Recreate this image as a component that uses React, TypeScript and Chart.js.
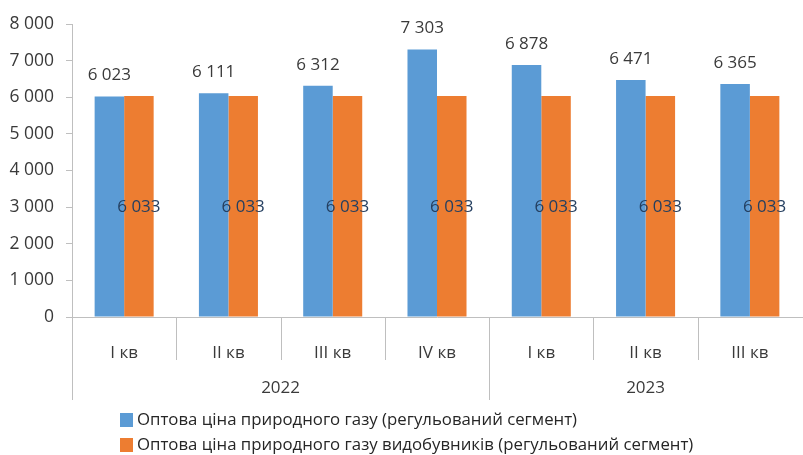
import React, { useEffect, useRef } from "react";
import { Chart, registerables } from "chart.js";

Chart.register(...registerables);

const quarters = ["I кв", "II кв", "III кв", "IV кв", "I кв", "II кв", "III кв"];
const years = ["2022", "2023"];
const yearSpans = [4, 3];
const regulatedPrice = [6023, 6111, 6312, 7303, 6878, 6471, 6365];
const producerPrice = [6033, 6033, 6033, 6033, 6033, 6033, 6033];
const seriesNames = [
  "Оптова ціна природного газу (регульований сегмент)",
  "Оптова ціна природного газу видобувників (регульований сегмент)",
];
const yTicks = [0, 1000, 2000, 3000, 4000, 5000, 6000, 7000, 8000];

const BLUE = "#5B9BD5";
const ORANGE = "#ED7D31";
const AXIS = "#BFBFBF";
const TEXT = "#3A3A3A";
const FONT = "'Open Sans', sans-serif";

const fmt = (v: number) => {
  const s = String(Math.round(v));
  return s.replace(/\B(?=(\d{3})+(?!\d))/g, " ");
};

const extrasPlugin = {
  id: "extras",
  afterDatasetsDraw(chart: any) {
    const ctx = chart.ctx;
    const x = chart.scales.x;
    const area = chart.chartArea;
    ctx.save();
    // data labels
    ctx.font = `17px ${FONT}`;
    ctx.textAlign = "center";
    ctx.textBaseline = "middle";
    const m0 = chart.getDatasetMeta(0);
    m0.data.forEach((bar: any, i: number) => {
      ctx.fillStyle = TEXT;
      ctx.fillText(fmt(regulatedPrice[i]), bar.x, bar.y - 21);
    });
    const m1 = chart.getDatasetMeta(1);
    m1.data.forEach((bar: any, i: number) => {
      ctx.fillStyle = "#243F60";
      ctx.fillText(fmt(producerPrice[i]), bar.x, (bar.y + bar.base) / 2 + 1);
    });

    // separators
    const n = quarters.length;
    const half = (x.getPixelForTick(1) - x.getPixelForTick(0)) / 2;
    ctx.strokeStyle = AXIS;
    ctx.lineWidth = 1;
    const yearBounds = new Set<number>();
    let acc = 0;
    yearSpans.forEach((s) => {
      yearBounds.add(acc);
      acc += s;
    });
    for (let i = 0; i < n; i++) {
      const px = Math.round(x.getPixelForTick(i) - half) + 0.5;
      const len = yearBounds.has(i) ? 83 : 43;
      ctx.beginPath();
      ctx.moveTo(px, area.bottom);
      ctx.lineTo(px, area.bottom + len);
      ctx.stroke();
    }
    // year labels
    ctx.fillStyle = TEXT;
    ctx.font = `17px ${FONT}`;
    let start = 0;
    yearSpans.forEach((s, k) => {
      const l = x.getPixelForTick(start) - half;
      const r = x.getPixelForTick(start + s - 1) + half;
      ctx.fillText(years[k], (l + r) / 2, area.bottom + 71);
      start += s;
    });

    // legend
    const colors = [BLUE, ORANGE];
    ctx.textAlign = "left";
    ctx.font = `16.8px ${FONT}`;
    seriesNames.forEach((name, k) => {
      const cy = 420 + k * 25;
      ctx.fillStyle = colors[k];
      ctx.fillRect(120, cy - 7, 13, 14);
      ctx.fillStyle = "#262626";
      ctx.fillText(name, 137, cy);
    });
    ctx.restore();
  },
};

export default function App() {
  const ref = useRef<HTMLCanvasElement | null>(null);
  useEffect(() => {
    if (!ref.current) return;
    const chart = new Chart(ref.current, {
      type: "bar",
      data: {
        labels: quarters,
        datasets: [
          { label: seriesNames[0], data: regulatedPrice, backgroundColor: BLUE, categoryPercentage: 0.566, barPercentage: 1 },
          { label: seriesNames[1], data: producerPrice, backgroundColor: ORANGE, categoryPercentage: 0.566, barPercentage: 1 },
        ],
      },
      options: {
        animation: false,
        responsive: false,
        maintainAspectRatio: false,
        layout: { padding: { top: 24, right: 1, left: 0, bottom: 0 } },
        plugins: { legend: { display: false }, tooltip: { enabled: false } },
        scales: {
          x: {
            grid: { display: false },
            border: { color: AXIS, width: 1 },
            ticks: { color: TEXT, font: { family: FONT, size: 17 }, padding: 18, maxRotation: 0, autoSkip: false },
            afterFit: (s: any) => { s.height = 138; },
          },
          y: {
            min: 0,
            max: 8000,
            afterBuildTicks: (s: any) => { s.ticks = yTicks.map((v) => ({ value: v })); },
            grid: { drawOnChartArea: false, drawTicks: true, tickLength: 6, color: AXIS },
            border: { color: AXIS, width: 1 },
            ticks: { color: TEXT, font: { family: FONT, size: 17.5 }, padding: 12, callback: (v: any) => fmt(Number(v)) },
            afterFit: (s: any) => { s.width = 72; },
          },
        },
      },
      plugins: [extrasPlugin],
    });
    return () => chart.destroy();
  }, []);
  return (
    <div style={{ position: "fixed", left: 0, top: 0, width: 803, height: 455, background: "#fff" }}>
      <canvas ref={ref} width={803} height={455} style={{ display: "block" }} />
    </div>
  );
}
